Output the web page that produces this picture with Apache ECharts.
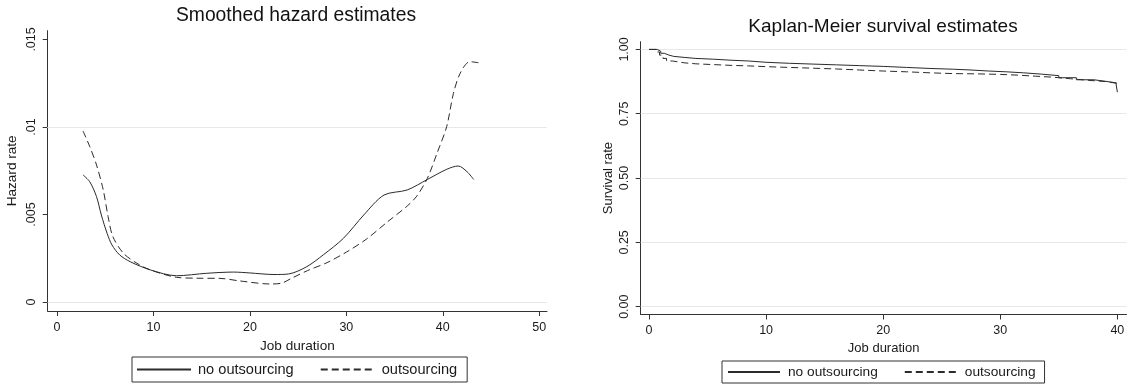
<!DOCTYPE html>
<html>
<head>
<meta charset="utf-8">
<script src="https://cdn.jsdelivr.net/npm/echarts@6/dist/echarts.min.js"></script>
<style>
html,body{margin:0;padding:0;background:#fff;}
#c{width:1128px;height:389px;}
</style>
</head>
<body>
<div id="c"></div>
<script>
// ---- Data: Smoothed hazard estimates ----
const hazTimeNo  = [2.7, 3.4, 4.1, 4.6, 5.2, 5.7, 6.5, 7.6, 9.7, 12.4, 15.5, 18.3, 20.0, 22.5, 24.0, 25.9, 27.6, 29.7, 31.8, 33.9, 36.3, 38.4, 40.4, 41.6, 42.5, 43.2];
const hazRateNo  = [0.00726, 0.00687, 0.00602, 0.00497, 0.00392, 0.00326, 0.00269, 0.0023, 0.00183, 0.0015, 0.00164, 0.00171, 0.00166, 0.00157, 0.0016, 0.00202, 0.00269, 0.00364, 0.00497, 0.00611, 0.0064, 0.007, 0.00758, 0.00777, 0.00745, 0.007];
const hazTimeOut = [2.7, 3.4, 4.1, 4.8, 5.3, 5.8, 6.9, 8.3, 9.7, 12.4, 14.5, 16.9, 19.0, 22.1, 23.3, 24.3, 26.0, 28.0, 30.0, 32.1, 34.2, 36.3, 37.3, 38.4, 39.4, 40.4, 41.1, 41.8, 42.8, 43.7];
const hazRateOut = [0.00977, 0.00888, 0.00783, 0.0064, 0.00488, 0.00373, 0.00278, 0.00221, 0.00183, 0.00141, 0.00136, 0.00135, 0.0012, 0.00103, 0.00108, 0.00135, 0.0018, 0.00225, 0.00285, 0.0036, 0.00455, 0.00548, 0.00605, 0.00707, 0.0085, 0.01002, 0.01192, 0.01307, 0.01373, 0.01367];

// ---- Data: Kaplan-Meier survival estimates ----
const kmTimeNo  = [0, 0.7, 1.0, 1.3, 1.7, 2.1, 3.0, 4.0, 5.5, 7.0, 8.5, 10, 12, 14, 16, 18, 20, 22, 24, 26, 27.5, 29, 30.5, 32, 33.5, 35, 36.5, 38, 39, 39.9, 40];
const kmSurvNo  = [1.0, 0.993, 0.985, 0.978, 0.973, 0.969, 0.965, 0.962, 0.958, 0.955, 0.95, 0.946, 0.943, 0.94, 0.937, 0.934, 0.93, 0.926, 0.923, 0.92, 0.916, 0.913, 0.909, 0.904, 0.898, 0.89, 0.882, 0.876, 0.87, 0.862, 0.834];
const kmTimeOut = [0, 0.6, 0.9, 1.2, 1.5, 2.0, 3.0, 4.0, 5.5, 7.0, 8.5, 10, 12, 14, 16, 18, 20, 22, 24, 26, 28, 30, 31.5, 33, 34.5, 36, 37.5, 39, 40];
const kmSurvOut = [1.0, 0.99, 0.978, 0.965, 0.955, 0.948, 0.944, 0.941, 0.938, 0.936, 0.933, 0.93, 0.927, 0.924, 0.92, 0.916, 0.913, 0.909, 0.906, 0.905, 0.903, 0.9, 0.896, 0.892, 0.886, 0.88, 0.875, 0.868, 0.862];

// ---- Ticks ----
const hazXTicks = [0, 10, 20, 30, 40, 50];
const hazYTicks = [0, 0.005, 0.01, 0.015];
const hazYLabels = ['0', '.005', '.01', '.015'];
const kmXTicks = [0, 10, 20, 30, 40];
const kmYTicks = [0, 0.25, 0.5, 0.75, 1.0];
const kmYLabels = ['0.00', '0.25', '0.50', '0.75', '1.00'];

const seriesNames = ['no outsourcing', 'outsourcing'];
const titles = ['Smoothed hazard estimates', 'Kaplan-Meier survival estimates'];

const FONT = '"Liberation Sans", Arial, sans-serif';
const TXT = '#1a1a1a';
const AX = '#333';
const GRIDC = '#e8e8e8';

function zip(a, b) { return a.map((v, i) => [v, b[i]]); }
function lookup(ticks, labels) {
  return function (v) {
    for (let i = 0; i < ticks.length; i++) if (Math.abs(ticks[i] - v) < 1e-9) return labels[i];
    return '';
  };
}

function xAxisCfg(gridIndex, min, max, ticks, fs, nameFs) {
  return {
    type: 'value', gridIndex, min, max,
    name: 'Job duration', nameLocation: 'middle', nameGap: 24,
    nameTextStyle: { fontFamily: FONT, fontSize: nameFs, color: TXT },
    axisLine: { show: true, onZero: false, lineStyle: { color: AX, width: 1 } },
    axisTick: { show: true, length: 5, customValues: ticks, lineStyle: { color: AX } },
    axisLabel: { customValues: ticks, margin: 10, fontFamily: FONT, fontSize: fs, color: TXT },
    splitLine: { show: false }
  };
}
function yAxisCfg(gridIndex, min, max, ticks, labels, name, gap, fs, nameFs) {
  return {
    type: 'value', gridIndex, min, max,
    name, nameLocation: 'middle', nameGap: gap,
    nameTextStyle: { fontFamily: FONT, fontSize: nameFs, color: TXT },
    axisLine: { show: true, onZero: false, lineStyle: { color: AX, width: 1 } },
    axisTick: { show: true, length: 5, customValues: ticks, lineStyle: { color: AX } },
    axisLabel: { customValues: ticks, rotate: 90, margin: 10, fontFamily: FONT, fontSize: fs, color: TXT,
                 formatter: lookup(ticks, labels) },
    splitLine: { show: false }
  };
}
function gridLines(ticks) {
  return {
    silent: true, z: 1, symbol: ['none', 'none'], animation: false,
    label: { show: false }, emphasis: { disabled: true },
    lineStyle: { color: GRIDC, type: 'solid', width: 1 },
    data: ticks.map(v => ({ yAxis: v }))
  };
}
const solidStyle = { color: '#2b2b2b', width: 1, type: 'solid' };
const dashStyle = { color: '#2b2b2b', width: 1, type: [7, 4] };

const legendBase = {
  show: true, data: seriesNames, orient: 'horizontal', selectedMode: false,
  borderColor: '#333', borderWidth: 1, itemHeight: 14,
  itemStyle: { opacity: 0, borderWidth: 0 },
};

const chart = echarts.init(document.getElementById('c'), null, { renderer: 'canvas' });
chart.setOption({
  animation: false,
  backgroundColor: '#fff',
  grid: [
    { left: 47.7, top: 30.7, width: 499.3, height: 280.3, containLabel: false, outerBoundsMode: 'none' },
    { left: 640.7, top: 41.7, width: 485.8, height: 272.8, containLabel: false, outerBoundsMode: 'none' }
  ],
  xAxis: [
    xAxisCfg(0, -0.96, 50.8, hazXTicks, 12.5, 13.6),
    xAxisCfg(1, -0.71, 40.78, kmXTicks, 12.5, 13)
  ],
  yAxis: [
    yAxisCfg(0, -0.000514, 0.0155, hazYTicks, hazYLabels, 'Hazard rate', 28, 12.5, 13.6),
    yAxisCfg(1, -0.0303, 1.03, kmYTicks, kmYLabels, 'Survival rate', 26, 12.5, 13)
  ],
  legend: [
    Object.assign({}, legendBase, { left: 132, top: 357, padding: [5, 10, 5, 4], itemWidth: 54, itemGap: 26,
      textStyle: { fontFamily: FONT, fontSize: 14.6, color: TXT, padding: [0, 0, 0, 2] } }),
    Object.assign({}, legendBase, { left: 722, top: 361, padding: [4, 9, 4, 5], itemWidth: 52, itemGap: 26,
      textStyle: { fontFamily: FONT, fontSize: 13.7, color: TXT, padding: [0, 0, 0, 3] } })
  ],
  graphic: [
    { type: 'text', x: 296, y: 16, silent: true,
      style: { text: titles[0], fill: '#111', font: '19.3px ' + FONT, textAlign: 'center', textVerticalAlign: 'middle' } },
    { type: 'text', x: 883, y: 27, silent: true,
      style: { text: titles[1], fill: '#111', font: '19px ' + FONT, textAlign: 'center', textVerticalAlign: 'middle' } }
  ],
  series: [
    { name: seriesNames[0], type: 'line', xAxisIndex: 0, yAxisIndex: 0, data: zip(hazTimeNo, hazRateNo),
      smooth: 0.3, symbol: 'none', showSymbol: false, lineStyle: solidStyle, itemStyle: { color: '#2b2b2b' },
      z: 3, markLine: gridLines(hazYTicks) },
    { name: seriesNames[1], type: 'line', xAxisIndex: 0, yAxisIndex: 0, data: zip(hazTimeOut, hazRateOut),
      smooth: 0.3, symbol: 'none', showSymbol: false, lineStyle: dashStyle, itemStyle: { color: '#2b2b2b' }, z: 3 },
    { name: seriesNames[0], type: 'line', xAxisIndex: 1, yAxisIndex: 1, data: zip(kmTimeNo, kmSurvNo),
      step: 'end', symbol: 'none', showSymbol: false, lineStyle: solidStyle, itemStyle: { color: '#2b2b2b' },
      z: 3, markLine: gridLines(kmYTicks) },
    { name: seriesNames[1], type: 'line', xAxisIndex: 1, yAxisIndex: 1, data: zip(kmTimeOut, kmSurvOut),
      step: 'end', symbol: 'none', showSymbol: false, lineStyle: dashStyle, itemStyle: { color: '#2b2b2b' }, z: 3 }
  ]
});
</script>
</body>
</html>
